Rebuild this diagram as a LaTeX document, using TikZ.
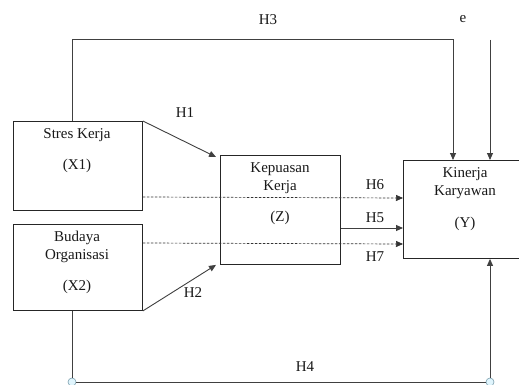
\documentclass[tikz,border=0pt]{standalone}
\usepackage{fontspec}
\setmainfont{Liberation Serif}
\usetikzlibrary{arrows.meta,calc}
\begin{document}
\begin{tikzpicture}[x=1pt,y=-1pt,
  box/.style={draw=black!85,line width=0.9pt,rectangle,anchor=north west,inner sep=0pt},
  txt/.style={font=\fontsize{15}{18}\selectfont,inner sep=0pt,align=center,text=black!90},
  con/.style={draw=black!75,line width=0.9pt},
  arr/.style={con,-{Triangle[length=7pt,width=6pt]}},
  darr/.style={draw=black!80,line width=0.7pt,dash pattern=on 2.5pt off 1.5pt,-{Triangle[length=7pt,width=6pt]}},
  handle/.style={circle,draw=gray!70!cyan,fill=cyan!12,line width=0.6pt,minimum size=8pt,inner sep=0pt}]
\useasboundingbox (0,0) rectangle (519,385);
\fill[white] (0,0) rectangle (519,385);
% boxes
\node[box,minimum width=129pt,minimum height=89pt] (X1) at (13,121) {};
\node[box,minimum width=129pt,minimum height=86pt] (X2) at (13,224) {};
\node[box,minimum width=120pt,minimum height=109pt] (Z) at (220,155) {};
\node[box,minimum width=125pt,minimum height=98pt] (Y) at (403,160) {};
% box texts
\node[txt] (tX1a) at (77,135) {Stres Kerja};
\node[txt] (tX1b) at (77,166) {(X1)};
\node[txt] (tX2a) at (77,238) {Budaya};
\node[txt] (tX2b) at (77,256) {Organisasi};
\node[txt] (tX2c) at (77,287) {(X2)};
\node[txt] (tZa) at (280,169) {Kepuasan};
\node[txt] (tZb) at (280,187) {Kerja};
\node[txt] (tZc) at (280,218) {(Z)};
\node[txt] (tYa) at (465,174) {Kinerja};
\node[txt] (tYb) at (465,192) {Karyawan};
\node[txt] (tYc) at (465,224) {(Y)};
% labels
\node[txt] (H3) at (268,20) {H3};
\node[txt] (e) at (463,19) {e};
\node[txt] (H1) at (185,113) {H1};
\node[txt] (H2) at (193,293) {H2};
\node[txt] (H6) at (375,185) {H6};
\node[txt] (H5) at (375,218) {H5};
\node[txt] (H7) at (375,257) {H7};
\node[txt] (H4) at (305,367) {H4};
% coordinates
\coordinate (etop) at (490,40);
\node[handle] (c1) at (72,382) {};
\node[handle] (c2) at (490,382) {};
% connectors
\draw[arr] (X1.north east) -- ([xshift=-4pt,yshift=-2pt]Z.north west);
\draw[arr] (X2.south east) -- ([xshift=-4pt,yshift=0pt]Z.south west);
\draw[arr] (X1.north -| 72,0) -- (72,39) -- (453,39) -- (Y.north -| 453,0);
\draw[arr] (etop) -- (Y.north -| etop);
\draw[con] (X2.south -| c1) -- (c1.north);
\draw[con] (c1.east) -- (c2.west);
\draw[arr] (c2.north) -- (Y.south -| c2);
\draw[darr] (X1.east |- 0,197) -- (Y.west |- 0,198);
\draw[darr] (X2.east |- 0,243) -- (Y.west |- 0,244);
\draw[arr] (Z.east |- 0,228) -- (Y.west |- 0,228);
\end{tikzpicture}
\end{document}
